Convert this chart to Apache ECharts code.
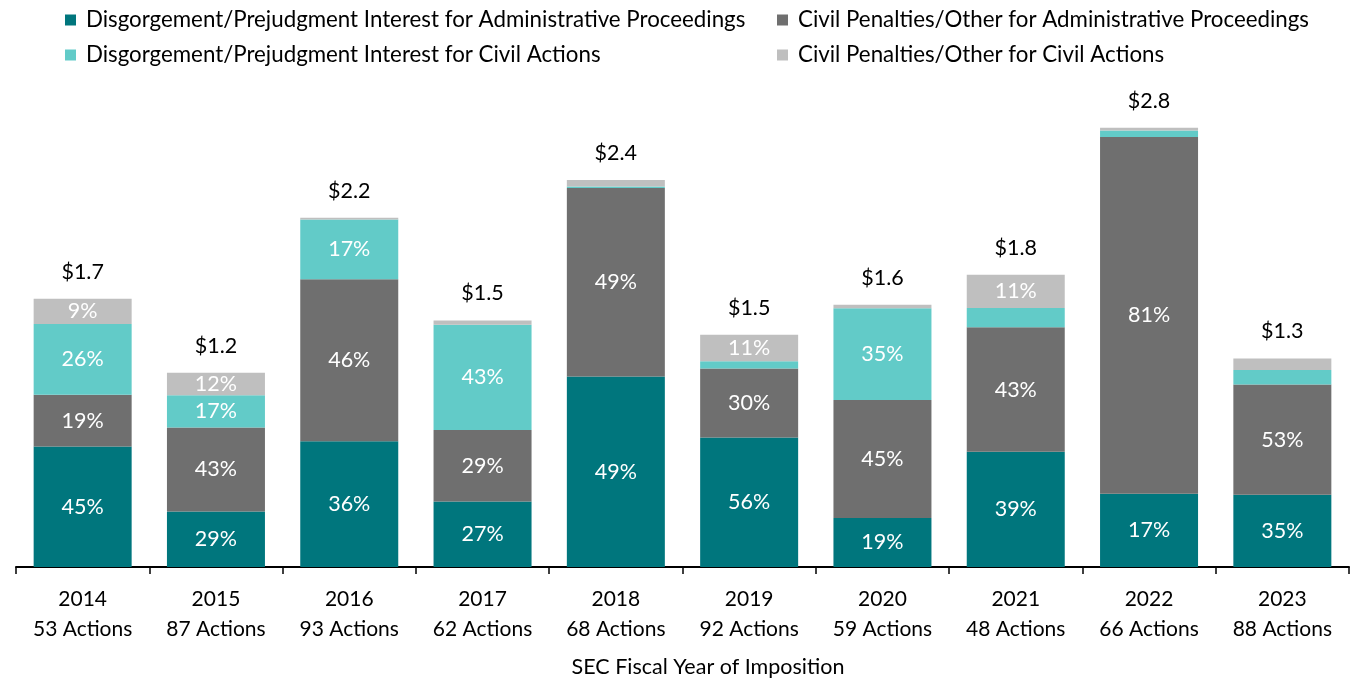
<!DOCTYPE html>
<html>
<head>
<meta charset="utf-8">
<script src="https://cdn.jsdelivr.net/npm/echarts@6/dist/echarts.min.js"></script>
<style>
html,body{margin:0;padding:0;background:#fff;}
#chart{width:1353px;height:681px;}
</style>
</head>
<body>
<div id="chart"></div>
<script>
const categories = ['2014','2015','2016','2017','2018','2019','2020','2021','2022','2023'];
const actions = [53, 87, 93, 62, 68, 92, 59, 48, 66, 88];
// total amount imposed, $ billions
const totals = [1.70, 1.23, 2.21, 1.56, 2.45, 1.47, 1.66, 1.85, 2.78, 1.32];
const totalLabels = ['$1.7','$1.2','$2.2','$1.5','$2.4','$1.5','$1.6','$1.8','$2.8','$1.3'];
// share of the total, percent
const pctDisgAP = [44.9, 28.6, 36.0, 26.6, 49.2, 55.8, 18.7, 39.4, 16.7, 34.6];
const pctPenAP  = [19.2, 43.2, 46.4, 29.0, 48.7, 29.7, 45.0, 42.6, 81.2, 52.9];
const pctDisgCA = [26.4, 16.6, 17.1, 42.7,  0.4,  3.1, 35.0,  6.6,  1.5,  6.9];
const pctPenCA  = [ 9.4, 11.6,  0.5,  1.7,  1.7, 11.4,  1.3, 11.4,  0.6,  5.6];

const names = [
  'Disgorgement/Prejudgment Interest for Administrative Proceedings',
  'Civil Penalties/Other for Administrative Proceedings',
  'Disgorgement/Prejudgment Interest for Civil Actions',
  'Civil Penalties/Other for Civil Actions'
];
const colors = ['#00767D', '#6F6F6F', '#62CBC8', '#BFBFBF'];
const pcts = [pctDisgAP, pctPenAP, pctDisgCA, pctPenCA];
const FONT = 'Lato';
const FS = 21.5;
const LFS = 22.3;

const barSeries = pcts.map((arr, s) => ({
  name: names[s],
  type: 'bar',
  stack: 'total',
  barWidth: 98,
  itemStyle: { color: colors[s] },
  label: {
    show: true,
    position: 'inside',
    color: '#fff',
    fontSize: FS,
    fontFamily: FONT,
    formatter: p => p.data.pct >= 8 ? Math.round(p.data.pct) + '%' : ''
  },
  data: arr.map((p, i) => ({ value: totals[i] * p / 100, pct: p }))
}));

const sums = categories.map((c, i) => pcts.reduce((a, arr) => a + totals[i] * arr[i] / 100, 0));

const chart = echarts.init(document.getElementById('chart'));
chart.setOption({
  animation: false,
  textStyle: { fontFamily: FONT },
  grid: { left: 16, right: 4, top: 93, bottom: 114 },
  legend: [
    {
      orient: 'vertical', left: 60, top: 4, icon: 'rect',
      itemWidth: 11, itemHeight: 11, itemGap: 13,
      textStyle: { fontSize: LFS, color: '#000', fontFamily: FONT, padding: [0, 0, 0, 5] },
      data: [names[0], names[2]]
    },
    {
      orient: 'vertical', left: 772, top: 4, icon: 'rect',
      itemWidth: 11, itemHeight: 11, itemGap: 13,
      textStyle: { fontSize: LFS, color: '#000', fontFamily: FONT, padding: [0, 0, 0, 5] },
      data: [names[1], names[3]]
    }
  ],
  xAxis: {
    type: 'category',
    data: categories,
    axisLine: { lineStyle: { color: '#000', width: 2 } },
    axisTick: { show: true, length: 7, lineStyle: { color: '#000', width: 1.5 } },
    axisLabel: {
      interval: 0,
      margin: 17,
      fontSize: 21,
      lineHeight: 30,
      color: '#000',
      fontFamily: FONT,
      formatter: (v, i) => v + '\n' + actions[i] + ' Actions'
    }
  },
  yAxis: { type: 'value', min: 0, max: 3.0, show: false },
  graphic: [{
    type: 'text',
    x: 708, y: 667,
    style: {
      text: 'SEC Fiscal Year of Imposition',
      fill: '#000',
      font: FS + 'px ' + FONT,
      textAlign: 'center',
      textVerticalAlign: 'middle'
    }
  }],
  series: barSeries.concat([{
    name: 'Total',
    type: 'line',
    data: sums,
    symbol: 'circle',
    symbolSize: 2,
    itemStyle: { color: 'transparent' },
    lineStyle: { color: 'transparent', width: 0 },
    silent: true,
    z: 5,
    label: {
      show: true,
      position: 'top',
      distance: 15,
      color: '#000',
      fontSize: FS,
      fontFamily: FONT,
      formatter: p => totalLabels[p.dataIndex]
    }
  }])
});
</script>
</body>
</html>
